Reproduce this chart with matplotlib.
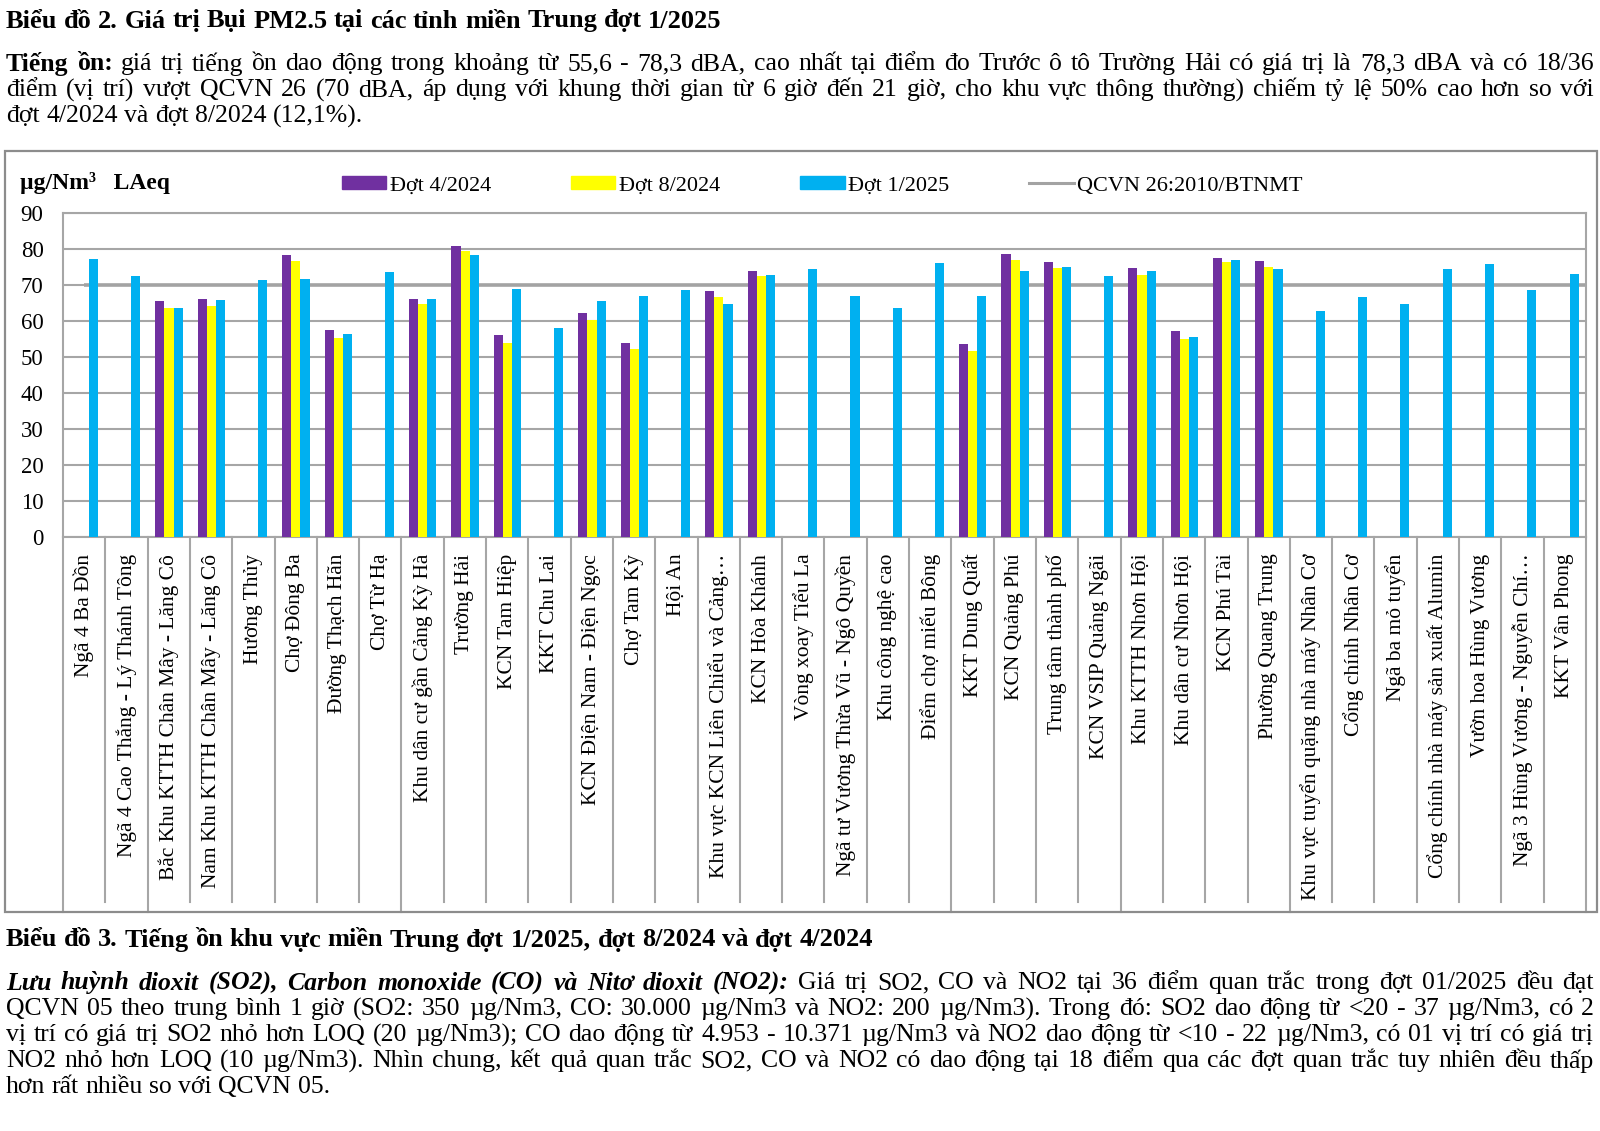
import matplotlib.pyplot as plt
import matplotlib.patches as mpatches
from matplotlib.lines import Line2D
import numpy as np

# ---------------------- 1. Font / canvas ----------------------
plt.rcParams['font.family'] = ['Liberation Serif', 'DejaVu Serif']
plt.rcParams['axes.unicode_minus'] = False

W, H = 1600, 1131          # output size in pixels (dpi = 100)


def fx(x):                 # pixel x -> figure fraction
    return x / W


def fy(y):                 # pixel y (from top) -> figure fraction
    return 1 - y / H


# ---------------------- 2. Data ----------------------
locations = ['Ngã 4 Ba Đồn', 'Ngã 4 Cao Thắng - Lý Thánh Tông',
             'Bắc Khu KTTH Chân Mây - Lăng Cô', 'Nam Khu KTTH Chân Mây - Lăng Cô',
             'Hương Thủy', 'Chợ Đông Ba', 'Đường Thạch Hãn', 'Chợ Từ Hạ',
             'Khu dân cư gần Cảng Kỳ Hà', 'Trường Hải', 'KCN Tam Hiệp', 'KKT Chu Lai',
             'KCN Điện Nam - Điện Ngọc', 'Chợ Tam Kỳ', 'Hội An',
             'Khu vực KCN Liên Chiểu và Cảng…', 'KCN Hòa Khánh', 'Vòng xoay Tiểu La',
             'Ngã tư Vương Thừa Vũ - Ngô Quyền', 'Khu công nghệ cao', 'Điểm chợ miếu Bông',
             'KKT Dung Quất', 'KCN Quảng Phú', 'Trung tâm thành phố', 'KCN VSIP Quảng Ngãi',
             'Khu KTTH Nhơn Hội', 'Khu dân cư Nhơn Hội', 'KCN Phú Tài', 'Phường Quang Trung',
             'Khu vực tuyển quặng nhà máy Nhân Cơ', 'Cổng chính Nhân Cơ', 'Ngã ba mỏ tuyển',
             'Cổng chính nhà máy sản xuất Alumin', 'Vườn hoa Hùng Vương',
             'Ngã 3 Hùng Vương - Nguyễn Chí…', 'KKT Vân Phong']

nan = np.nan
dot_4_2024 = [nan, nan, 65.5, 66.0, nan, 78.4, 57.4, nan, 66.0, 80.7, 56.0, nan,
              62.3, 53.9, nan, 68.3, 73.8, nan, nan, nan, nan, 53.7, 78.6, 76.4,
              nan, 74.7, 57.1, 77.6, 76.8, nan, nan, nan, nan, nan, nan, nan]
dot_8_2024 = [nan, nan, 63.5, 64.1, nan, 76.8, 55.4, nan, 64.6, 79.5, 54.0, nan,
              60.4, 52.1, nan, 66.6, 72.4, nan, nan, nan, nan, 51.7, 76.9, 74.7,
              nan, 72.7, 55.1, 76.4, 75.1, nan, nan, nan, nan, nan, nan, nan]
dot_1_2025 = [77.3, 72.4, 63.7, 65.7, 71.3, 71.6, 56.3, 73.5, 66.0, 78.3, 69.0, 58.0,
              65.5, 67.0, 68.6, 64.6, 72.9, 74.4, 67.0, 63.5, 76.0, 67.0, 73.8, 75.0,
              72.4, 73.8, 55.6, 77.0, 74.4, 62.8, 66.8, 64.7, 74.5, 75.7, 68.5, 73.0]
qcvn_limit = 70

series_names = ['Đợt 4/2024', 'Đợt 8/2024', 'Đợt 1/2025']
series_colors = ['#7030A0', '#FFFF00', '#00B0F0']
qcvn_name = 'QCVN 26:2010/BTNMT'

# category boundaries of the (unlabelled) outer grouping level
group_bounds = [0, 2, 8, 21, 25, 29, 36]

# ---------------------- 3. Figure ----------------------
fig = plt.figure(figsize=(W / 100, H / 100), dpi=100)
renderer = fig.canvas.get_renderer()


def text_line(segments, y, justify=True, x0=6, x1=1594, size=18.5):
    """Draw one line of body text, word by word, justified like Word."""
    words = []
    for txt, weight, style in segments:
        for w in txt.split(' '):
            if w:
                words.append((w, weight, style))
    arts = [fig.text(0, fy(y), w, fontsize=size, fontweight=wt, fontstyle=st,
                     va='center', ha='left') for w, wt, st in words]
    widths = [a.get_window_extent(renderer).width for a in arts]
    if justify and len(words) > 1:
        gap = (x1 - x0 - sum(widths)) / (len(words) - 1)
    else:
        gap = size * 100 / 72 * 0.25
    x = x0
    for a, wd in zip(arts, widths):
        a.set_x(fx(x))
        x += wd + gap


B, N, I = 'bold', 'normal', 'italic'

# heading + paragraph above the chart
text_line([('Biểu đồ 2. Giá trị Bụi PM2.5 tại các tỉnh miền Trung đợt 1/2025', B, N)],
          21, justify=False, size=19)
text_line([('Tiếng ồn:', B, N),
           ('giá trị tiếng ồn dao động trong khoảng từ 55,6 - 78,3 dBA, cao nhất tại điểm đo '
            'Trước ô tô Trường Hải có giá trị là 78,3 dBA và có 18/36', N, N)], 64)
text_line([('điểm (vị trí) vượt QCVN 26 (70 dBA, áp dụng với khung thời gian từ 6 giờ đến 21 giờ, '
            'cho khu vực thông thường) chiếm tỷ lệ 50% cao hơn so với', N, N)], 90)
text_line([('đợt 4/2024 và đợt 8/2024 (12,1%).', N, N)], 116, justify=False)

# heading + paragraph below the chart
text_line([('Biểu đồ 3. Tiếng ồn khu vực miền Trung đợt 1/2025, đợt 8/2024 và đợt 4/2024', B, N)],
          940, justify=False, size=19)
text_line([('Lưu huỳnh dioxit (SO2), Carbon monoxide (CO) và Nitơ dioxit (NO2):', B, I),
           ('Giá trị SO2, CO và NO2 tại 36 điểm quan trắc trong đợt 01/2025 đều đạt', N, N)], 983)
text_line([('QCVN 05 theo trung bình 1 giờ (SO2: 350 µg/Nm3, CO: 30.000 µg/Nm3 và NO2: 200 µg/Nm3). '
            'Trong đó: SO2 dao động từ <20 - 37 µg/Nm3, có 2', N, N)], 1009)
text_line([('vị trí có giá trị SO2 nhỏ hơn LOQ (20 µg/Nm3); CO dao động từ 4.953 - 10.371 µg/Nm3 '
            'và NO2 dao động từ <10 - 22 µg/Nm3, có 01 vị trí có giá trị', N, N)], 1035)
text_line([('NO2 nhỏ hơn LOQ (10 µg/Nm3). Nhìn chung, kết quả quan trắc SO2, CO và NO2 có dao động '
            'tại 18 điểm qua các đợt quan trắc tuy nhiên đều thấp', N, N)], 1061)
text_line([('hơn rất nhiều so với QCVN 05.', N, N)], 1087, justify=False)

# outer chart frame
fig.add_artist(mpatches.Rectangle((fx(5), fy(912)), fx(1597) - fx(5), fy(151) - fy(912),
                                  transform=fig.transFigure, fill=False,
                                  edgecolor='#8C8C8C', linewidth=1.6))

# ---------------------- 4. Bar chart ----------------------
ax_left, ax_right, ax_top, ax_bottom = 63, 1586, 213, 537
ax = fig.add_axes([fx(ax_left), fy(ax_bottom), fx(ax_right) - fx(ax_left),
                   fy(ax_top) - fy(ax_bottom)])

n = len(locations)
x = np.arange(n) + 0.5
bw = 0.215
for k, (vals, name, col) in enumerate(zip([dot_4_2024, dot_8_2024, dot_1_2025],
                                          series_names, series_colors)):
    ax.bar(x + (k - 1) * bw + 0.005, vals, width=bw, color=col, label=name, zorder=3)

ax.hlines(qcvn_limit, x[0], n, color='#A3A3A3', linewidth=2.6, zorder=2)

ax.set_xlim(0, n)
ax.set_ylim(0, 90)
ax.set_yticks(np.arange(0, 91, 10))
ax.set_xticks(x)
ax.set_xticklabels(locations, rotation=90, va='top', ha='center', fontsize=15.5)
ax.tick_params(axis='x', length=0, pad=12)
ax.tick_params(axis='y', length=0, pad=14, labelsize=16.5)
ax.yaxis.grid(True, color='#A6A6A6', linewidth=1.5)
ax.set_axisbelow(True)
for s in ax.spines.values():
    s.set_color('#A6A6A6')
    s.set_linewidth(1.5)

# category separators in the label area (longer ones close the outer groups)
ax_h = ax_bottom - ax_top
for k in range(n + 1):
    end = 912 if k in group_bounds else 902
    ax.plot([k, k], [0, (ax_bottom - end) / ax_h], color='#A6A6A6', linewidth=1.5,
            transform=ax.get_xaxis_transform(), clip_on=False)

# unit label and legend
fig.text(fx(20), fy(183), 'µg/Nm³   LAeq', fontsize=17, fontweight='bold', va='center')
handles = [mpatches.Patch(color=c) for c in series_colors]
handles.append(Line2D([], [], color='#A3A3A3', linewidth=2.2))
fig.legend(handles, series_names + [qcvn_name], loc='center left',
           bbox_to_anchor=(fx(342), fy(186)), ncol=4, frameon=False, fontsize=16,
           handlelength=2.0, handleheight=0.5, handletextpad=0.15, columnspacing=3.6,
           borderpad=0, borderaxespad=0)

plt.savefig('out.png', dpi=100)
